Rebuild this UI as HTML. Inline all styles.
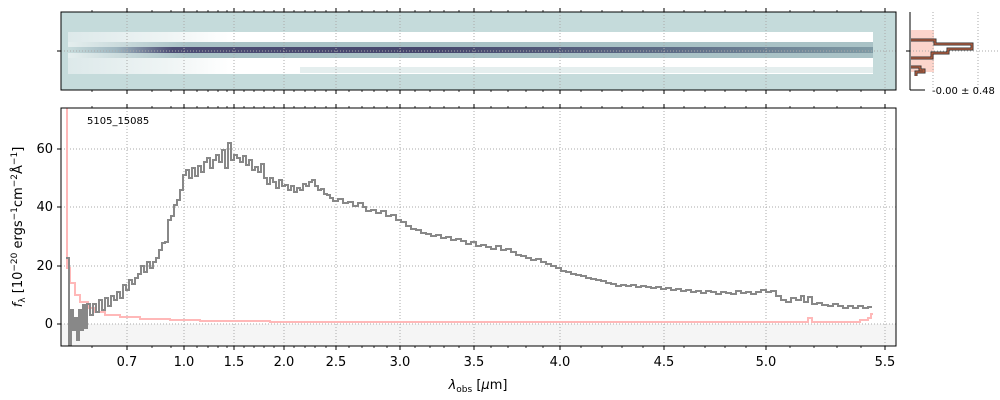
<!DOCTYPE html>
<html><head><meta charset="utf-8"><style>
body{margin:0;background:#fff;}
svg{display:block;font-family:"DejaVu Sans","Liberation Sans",sans-serif;}
</style></head><body>
<svg width="1000" height="400" viewBox="0 0 1000 400">
<defs>
<linearGradient id="band" x1="0" x2="1" y1="0" y2="0">
<stop offset="0" stop-color="#c8dcdc"/>
<stop offset="0.06" stop-color="#9fb6c0"/>
<stop offset="0.13" stop-color="#4d4d74"/>
<stop offset="0.45" stop-color="#46466c"/>
<stop offset="0.75" stop-color="#5e6c86"/>
<stop offset="1" stop-color="#7f9aa4"/>
</linearGradient>
<linearGradient id="band2" x1="0" x2="1" y1="0" y2="0">
<stop offset="0" stop-color="#e4eeee"/>
<stop offset="0.15" stop-color="#a9c2c6"/>
<stop offset="1" stop-color="#a9c2c6"/>
</linearGradient>
<linearGradient id="wh" x1="0" x2="1" y1="0" y2="0">
<stop offset="0" stop-color="#dde9ea"/>
<stop offset="0.12" stop-color="#eef4f4"/>
<stop offset="0.2" stop-color="#ffffff"/>
<stop offset="1" stop-color="#ffffff"/>
</linearGradient>
</defs>
<!-- top 2D panel -->
<rect x="61" y="12" width="835" height="78" fill="#c5dbdb"/>
<rect x="68" y="32" width="805" height="42" fill="url(#wh)"/>
<rect x="300" y="67" width="573" height="6" fill="#e4eeee"/>
<rect x="68" y="42" width="805" height="16" fill="url(#band2)"/>
<rect x="68" y="47" width="805" height="6" fill="url(#band)"/>
<g stroke="#aaa" stroke-dasharray="1,2" stroke-width="1">
<line x1="127" y1="12" x2="127" y2="90"/><line x1="184" y1="12" x2="184" y2="90"/>
<line x1="234" y1="12" x2="234" y2="90"/><line x1="284" y1="12" x2="284" y2="90"/>
<line x1="336" y1="12" x2="336" y2="90"/><line x1="400" y1="12" x2="400" y2="90"/>
<line x1="474" y1="12" x2="474" y2="90"/><line x1="560" y1="12" x2="560" y2="90"/>
<line x1="664" y1="12" x2="664" y2="90"/><line x1="766" y1="12" x2="766" y2="90"/>
<line x1="885" y1="12" x2="885" y2="90"/><line x1="61" y1="51" x2="896" y2="51"/>
</g>
<rect x="61" y="12" width="835" height="78" fill="none" stroke="#000" stroke-width="1"/>
<line x1="57" y1="51" x2="61" y2="51" stroke="#000"/>
<!-- major ticks -->
<path stroke="#000" fill="none" d="M127,12v-4M184,12v-4M234,12v-4M284,12v-4M336,12v-4M400,12v-4M474,12v-4M560,12v-4M664,12v-4M766,12v-4M885,12v-4 M127,90v4M184,90v4M234,90v4M284,90v4M336,90v4M400,90v4M474,90v4M560,90v4M664,90v4M766,90v4M885,90v4 M127,346v4M184,346v4M234,346v4M284,346v4M336,346v4M400,346v4M474,346v4M560,346v4M664,346v4M766,346v4M885,346v4 M127,108v-4M184,108v-4M234,108v-4M284,108v-4M336,108v-4M400,108v-4M474,108v-4M560,108v-4M664,108v-4M766,108v-4M885,108v-4"/>
<!-- minor ticks -->
<path stroke="#000" fill="none" stroke-width="0.8" d="M92,12v-2M152,12v-2M171,12v-2M197,12v-2M208,12v-2M218,12v-2M227,12v-2M244,12v-2M254,12v-2M264,12v-2M274,12v-2M294,12v-2M305,12v-2M315,12v-2M326,12v-2M349,12v-2M362,12v-2M374,12v-2M387,12v-2M415,12v-2M430,12v-2M444,12v-2M459,12v-2M491,12v-2M508,12v-2M526,12v-2M543,12v-2M581,12v-2M602,12v-2M622,12v-2M643,12v-2M684,12v-2M705,12v-2M725,12v-2M746,12v-2M790,12v-2M814,12v-2M837,12v-2M861,12v-2
M92,90v2M152,90v2M171,90v2M197,90v2M208,90v2M218,90v2M227,90v2M244,90v2M254,90v2M264,90v2M274,90v2M294,90v2M305,90v2M315,90v2M326,90v2M349,90v2M362,90v2M374,90v2M387,90v2M415,90v2M430,90v2M444,90v2M459,90v2M491,90v2M508,90v2M526,90v2M543,90v2M581,90v2M602,90v2M622,90v2M643,90v2M684,90v2M705,90v2M725,90v2M746,90v2M790,90v2M814,90v2M837,90v2M861,90v2
M92,108v-2M152,108v-2M171,108v-2M197,108v-2M208,108v-2M218,108v-2M227,108v-2M244,108v-2M254,108v-2M264,108v-2M274,108v-2M294,108v-2M305,108v-2M315,108v-2M326,108v-2M349,108v-2M362,108v-2M374,108v-2M387,108v-2M415,108v-2M430,108v-2M444,108v-2M459,108v-2M491,108v-2M508,108v-2M526,108v-2M543,108v-2M581,108v-2M602,108v-2M622,108v-2M643,108v-2M684,108v-2M705,108v-2M725,108v-2M746,108v-2M790,108v-2M814,108v-2M837,108v-2M861,108v-2
M92,346v2M152,346v2M171,346v2M197,346v2M208,346v2M218,346v2M227,346v2M244,346v2M254,346v2M264,346v2M274,346v2M294,346v2M305,346v2M315,346v2M326,346v2M349,346v2M362,346v2M374,346v2M387,346v2M415,346v2M430,346v2M444,346v2M459,346v2M491,346v2M508,346v2M526,346v2M543,346v2M581,346v2M602,346v2M622,346v2M643,346v2M684,346v2M705,346v2M725,346v2M746,346v2M790,346v2M814,346v2M837,346v2M861,346v2"/>
<!-- side panel -->
<rect x="911" y="30" width="23" height="42" fill="#fcd5cc"/>
<line x1="933" y1="12" x2="933" y2="90" stroke="#aaa" stroke-dasharray="1,2"/>
<line x1="978" y1="12" x2="978" y2="90" stroke="#aaa" stroke-dasharray="1,2"/>
<line x1="910" y1="51" x2="1000" y2="51" stroke="#aaa" stroke-dasharray="1,2"/>
<path d="M911,40 H935 V44 H972 V49 H948 V53 H932 V58 H911 M911,67 H920 V70 H924 V72 H916 V76" fill="none" stroke="#333" stroke-width="3"/>
<path d="M911,40 H935 V44 H972 V49 H948 V53 H932 V58 H911 M911,67 H920 V70 H924 V72 H916 V76" fill="none" stroke="#c0603f" stroke-width="1.2"/>
<line x1="910" y1="12" x2="910" y2="90" stroke="#000"/>
<line x1="910" y1="90" x2="925" y2="90" stroke="#000"/>
<line x1="906" y1="51" x2="910" y2="51" stroke="#000"/>
<text x="932" y="94" font-size="10">-0.00 ± 0.48</text>
<!-- main panel -->
<rect x="61" y="324" width="835" height="22" fill="#f5f5f5"/>
<g stroke="#aaa" stroke-dasharray="1,2" stroke-width="1">
<line x1="127" y1="108" x2="127" y2="346"/><line x1="184" y1="108" x2="184" y2="346"/>
<line x1="234" y1="108" x2="234" y2="346"/><line x1="284" y1="108" x2="284" y2="346"/>
<line x1="336" y1="108" x2="336" y2="346"/><line x1="400" y1="108" x2="400" y2="346"/>
<line x1="474" y1="108" x2="474" y2="346"/><line x1="560" y1="108" x2="560" y2="346"/>
<line x1="664" y1="108" x2="664" y2="346"/><line x1="766" y1="108" x2="766" y2="346"/>
<line x1="885" y1="108" x2="885" y2="346"/>
<line x1="61" y1="149" x2="896" y2="149"/><line x1="61" y1="207" x2="896" y2="207"/>
<line x1="61" y1="266" x2="896" y2="266"/><line x1="61" y1="324" x2="896" y2="324"/>
</g>
<path d="M67,108 V268 H70 V283 H75 V295 H80 V302 H88 V308 H95 V312 H105 V315 H120 V317 H140 V319 H170 V320 H200 V321 H270 V322 H808 V318 H812 V322 H860 V320 H868 V318 H871 V314 H873" fill="none" stroke="#ffb8b8" stroke-width="2"/>
<path d="M66,258 H69 V345 H71 V310 H73 V330 H75 V318 H77 V340 H79 V310 H81 V330 H83 V305 H85 V328 H87 V304 H90 V315 H93 V304 H96 V312 H99 V300 H102 V310 H105 V298 H108 V306 H111 V296 H114 V300 H117 V292 H120 V298 H123 V285 H126 V290 H129 V280 H132 V284 H135 V278 H138 V274 H141 V266 H144 V272 H147 V262 H150 V268 H153 V262 H156 V258 H159 V250 H162 V243 H165 V242 H168 V220 H171 V216 H174 V205 H177 V200 H180 V190 H183 V175 H186 V170 H189 V178 H192 V168 H195 V176 H198 V166 H201 V172 H204 V162 H207 V158 H210 V168 H213 V160 H216 V155 H219 V162 H222 V150 H225 V168 H228 V143 H231 V160 H234 V155 H237 V158 H240 V162 H243 V156 H246 V165 H249 V160 H252 V170 H255 V167 H258 V172 H261 V164 H264 V178 H267 V184 H270 V178 H273 V182 H276 V188 H279 V180 H282 V186 H285 V185 H288 V190 H291 V186 H294 V192 H297 V188 H300 V190 H303 V184 H306 V186 H309 V182 H312 V180 H315 V186 H318 V190 H321 V189 H324 V194 H327 V195 H330 V198 H333 V201 H338 V199 H343 V203 H348 V202 H353 V206 H358 V203 H363 V207 H366 V211 H371 V210 H376 V213 H381 V211 H386 V216 H391 V215 H396 V220 H401 V222 H406 V226 H411 V229 H416 V230 H421 V233 H426 V234 H431 V236 H436 V235 H441 V238 H446 V237 H451 V240 H456 V239 H461 V241 H466 V244 H471 V242 H476 V246 H481 V245 H486 V247 H491 V249 H496 V246 H501 V250 H506 V249 H511 V252 H516 V255 H521 V256 H526 V258 H531 V260 H536 V259 H541 V262 H546 V264 H551 V266 H556 V268 H561 V271 H566 V272 H571 V274 H576 V275 H581 V276 H586 V278 H591 V279 H596 V280 H601 V281 H606 V283 H611 V284 H616 V286 H621 V285 H626 V286 H631 V285 H636 V287 H641 V286 H646 V287 H651 V288 H656 V287 H661 V289 H666 V288 H671 V290 H676 V289 H681 V291 H686 V290 H691 V292 H696 V291 H701 V293 H706 V291 H711 V292 H716 V294 H721 V292 H726 V293 H731 V294 H736 V291 H741 V293 H746 V292 H751 V294 H756 V292 H761 V290 H766 V292 H771 V291 H776 V296 H781 V300 H786 V302 H791 V298 H796 V300 H801 V296 H804 V302 H808 V297 H812 V304 H817 V303 H822 V305 H828 V306 H833 V304 H838 V306 H843 V308 H848 V306 H853 V308 H858 V306 H863 V308 H868 V307 H872" fill="none" stroke="#888" stroke-width="2"/>
<rect x="61" y="108" width="835" height="238" fill="none" stroke="#000" stroke-width="1"/>
<path stroke="#000" d="M57,149h4M57,207h4M57,266h4M57,324h4"/>
<g font-size="13" text-anchor="end" fill="#000">
<text x="53" y="153">60</text><text x="53" y="211">40</text><text x="53" y="270">20</text><text x="53" y="328">0</text>
</g>
<g font-size="13" text-anchor="middle" fill="#000">
<text x="127" y="366">0.7</text><text x="184" y="366">1.0</text><text x="234" y="366">1.5</text><text x="284" y="366">2.0</text><text x="336" y="366">2.5</text><text x="400" y="366">3.0</text><text x="474" y="366">3.5</text><text x="560" y="366">4.0</text><text x="664" y="366">4.5</text><text x="766" y="366">5.0</text><text x="885" y="366">5.5</text>
</g>
<text x="87" y="124" font-size="10">5105_15085</text>
<text x="478" y="389" font-size="13" text-anchor="middle"><tspan font-style="italic">λ</tspan><tspan font-size="9" dy="3">obs</tspan><tspan dy="-3"> [</tspan><tspan font-style="italic">μ</tspan>m]</text>
<text transform="translate(22,227) rotate(-90)" font-size="13" text-anchor="middle"><tspan font-style="italic">f</tspan><tspan font-size="9" dy="3">λ</tspan><tspan dy="-3"> [10</tspan><tspan font-size="9" dy="-5">−20</tspan><tspan dy="5"> ergs</tspan><tspan font-size="9" dy="-5">−1</tspan><tspan dy="5">cm</tspan><tspan font-size="9" dy="-5">−2</tspan><tspan dy="5">Å</tspan><tspan font-size="9" dy="-5">−1</tspan><tspan dy="5">]</tspan></text>
</svg>
</body></html>
